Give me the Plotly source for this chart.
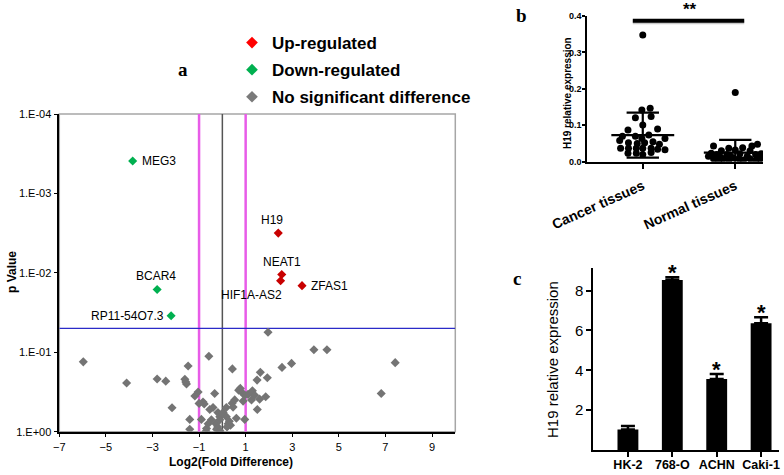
import math
import plotly.graph_objects as go

FONT = "Liberation Sans, Arial, sans-serif"
SERIF = "Liberation Serif, Times New Roman, serif"

# ---------------- panel a : volcano plot ----------------
grey_x = [-5.97, -4.11, -2.80, -2.43, -2.16, -1.47, -1.61, -1.54, -1.57, -1.18,
          -1.04, -1.40, -1.40, -0.83, -0.78, -0.58, -0.33, -0.40, -0.54, -0.47,
          -0.61, -0.68, -0.70, -0.19, -0.11, -0.11, -0.28, -0.20, -0.15, -0.25,
          -0.10, 0.03, 0.17, 0.17, 0.25, 0.35, 0.30, 0.20, 0.43, 0.42,
          0.53, 0.60, 0.77, 0.82, 0.70, 0.96, 1.10, 0.89, 0.96, 1.29,
          1.39, 1.25, 1.60, 1.86, 1.50, 1.49, 1.63, 1.93, 1.96, 2.56,
          2.97, 3.93, 4.49, 6.82, 7.42, -1.00, -0.90, 0.46]
grey_p = [0.132, 0.244, 0.217, 0.231, 0.500, 0.149, 0.219, 0.251, 0.236, 0.355,
          0.316, 0.700, 0.930, 0.422, 0.447, 0.112, 0.331, 0.495, 0.525, 0.708,
          0.794, 0.912, 0.990, 0.575, 0.646, 0.708, 0.794, 0.871, 0.955, 0.930,
          0.980, 0.575, 0.495, 0.646, 0.794, 0.830, 0.740, 0.870, 0.162, 0.437,
          0.398, 0.676, 0.285, 0.316, 0.300, 0.347, 0.339, 0.412, 0.700, 0.305,
          0.347, 0.398, 0.389, 0.363, 0.525, 0.224, 0.179, 0.209, 0.056, 0.155,
          0.138, 0.093, 0.093, 0.331, 0.135, 0.440, 0.700, 0.490]
up_names = ["H19", "NEAT1", "HIF1A-AS2", "ZFAS1"]
up_x = [2.40, 2.55, 2.50, 3.42]
up_p = [0.00316, 0.0105, 0.0126, 0.0145]
down_names = ["MEG3", "BCAR4", "RP11-54O7.3"]
down_x = [-3.85, -2.80, -2.20]
down_p = [0.00039, 0.0162, 0.0347]
fc_cutoffs = [-1, 1]
p_cutoff = 0.05
a_yticks = [1e-4, 1e-3, 1e-2, 1e-1, 1]
a_yticklabels = ["1.E-04", "1.E-03", "1.E-02", "1.E-01", "1.E+00"]
a_xticks = [-7, -5, -3, -1, 1, 3, 5, 7, 9]
legend_labels = ["Up-regulated", "Down-regulated", "No significant difference"]

# ---------------- panel b : tissue scatter ----------------
b_groups = ["Cancer tissues", "Normal tissues"]
cancer_dx = [0.00, -0.01, 0.08, 0.09, -0.08, 0.00, 0.16, -0.16, 0.065, -0.22,
             -0.08, -0.01, -0.25, 0.24, -0.155, -0.06, 0.02, 0.11, 0.18, -0.24,
             -0.155, -0.07, 0.09, 0.16, 0.24, 0.00, -0.16, -0.07, 0.00, 0.09]
cancer_val = [0.348, 0.142, 0.147, 0.124, 0.121, 0.101, 0.090, 0.087, 0.073, 0.070,
              0.070, 0.064, 0.058, 0.064, 0.052, 0.050, 0.052, 0.055, 0.048, 0.037,
              0.037, 0.037, 0.037, 0.034, 0.033, 0.037, 0.023, 0.023, 0.020, 0.025]
normal_dx = [0.00, -0.235, 0.18, 0.24, -0.07, 0.08, -0.15, 0.00, 0.16, -0.26,
             0.28, -0.20, -0.09, 0.05, 0.22, -0.29, -0.16, -0.05, 0.13, 0.25,
             0.31, -0.235, -0.13, -0.02, 0.04, 0.16, 0.27, -0.07, 0.09, -0.18, 0.22]
normal_val = [0.190, 0.043, 0.043, 0.048, 0.037, 0.038, 0.030, 0.032, 0.030, 0.023,
              0.022, 0.020, 0.020, 0.022, 0.020, 0.015, 0.013, 0.015, 0.015, 0.013,
              0.015, 0.008, 0.008, 0.010, 0.008, 0.008, 0.008, 0.005, 0.005, 0.004, 0.004]
b_mean = [0.073, 0.025]
b_sd = [0.062, 0.035]
b_sig = "**"
b_sig_level = 0.387

# ---------------- panel c : cell lines ----------------
c_lines = ["HK-2", "768-O", "ACHN", "Caki-1"]
c_vals = [1.03, 8.53, 3.56, 6.36]
c_err = [0.18, 0.14, 0.25, 0.30]
c_stars = ["", "*", "*", "*"]

fig = go.Figure()

# --- panel a cut-off lines
for c in fc_cutoffs:
    fig.add_trace(go.Scatter(x=[c, c], y=[1e-4, 1], mode="lines",
                             line=dict(color="#e85ce8", width=2.5),
                             showlegend=False, hoverinfo="skip",
                             xaxis="x", yaxis="y"))
fig.add_trace(go.Scatter(x=[0, 0], y=[1e-4, 1], mode="lines",
                         line=dict(color="#555555", width=1.5),
                         showlegend=False, hoverinfo="skip", xaxis="x", yaxis="y"))
fig.add_trace(go.Scatter(x=[-7, 10], y=[p_cutoff, p_cutoff], mode="lines",
                         line=dict(color="#2b2bc8", width=1.2),
                         showlegend=False, hoverinfo="skip", xaxis="x", yaxis="y"))

# --- panel a points
fig.add_trace(go.Scatter(x=grey_x, y=grey_p, mode="markers",
                         marker=dict(symbol="diamond", size=7, color="#747474"),
                         showlegend=False, xaxis="x", yaxis="y"))
fig.add_trace(go.Scatter(x=up_x, y=up_p, mode="markers",
                         marker=dict(symbol="diamond", size=7, color="#c80000"),
                         showlegend=False, xaxis="x", yaxis="y"))
fig.add_trace(go.Scatter(x=down_x, y=down_p, mode="markers",
                         marker=dict(symbol="diamond", size=7, color="#00b050"),
                         showlegend=False, xaxis="x", yaxis="y"))

# --- legend entries
for name, col in zip(legend_labels, ["#ff0000", "#00b050", "#7a7a7a"]):
    fig.add_trace(go.Scatter(x=[None], y=[None], mode="markers", name="<b>" + name + "</b>",
                             legendgroup=name,
                             marker=dict(symbol="diamond", size=9, color=col),
                             xaxis="x", yaxis="y"))

# --- panel b points
fig.add_trace(go.Scatter(x=[0 + d for d in cancer_dx], y=cancer_val, mode="markers",
                         marker=dict(size=7, color="black"), showlegend=False,
                         xaxis="x2", yaxis="y2"))
fig.add_trace(go.Scatter(x=[1 + d for d in normal_dx], y=normal_val, mode="markers",
                         marker=dict(size=7, color="black"), showlegend=False,
                         xaxis="x2", yaxis="y2"))
# mean and SD
lx, ly = [], []
for i, (m, s) in enumerate(zip(b_mean, b_sd)):
    lx += [i - 0.34, i + 0.34, None, i, i, None, i - 0.175, i + 0.175, None,
           i - 0.175, i + 0.175, None]
    ly += [m, m, None, m - s, m + s, None, m + s, m + s, None, m - s, m - s, None]
fig.add_trace(go.Scatter(x=lx, y=ly, mode="lines", line=dict(color="black", width=2.2),
                         showlegend=False, hoverinfo="skip", xaxis="x2", yaxis="y2"))
fig.add_trace(go.Scatter(x=[-0.108, 1.097], y=[b_sig_level - 0.004, b_sig_level - 0.004],
                         mode="lines", line=dict(color="#c8c8c8", width=4),
                         showlegend=False, hoverinfo="skip", xaxis="x2", yaxis="y2"))
fig.add_trace(go.Scatter(x=[-0.108, 1.097], y=[b_sig_level, b_sig_level],
                         mode="lines", line=dict(color="black", width=4),
                         showlegend=False, hoverinfo="skip", xaxis="x2", yaxis="y2",
                         cliponaxis=False))

# --- panel c bars
fig.add_trace(go.Bar(x=c_lines, y=c_vals, width=0.47, marker=dict(color="black", line=dict(width=0)),
                     error_y=dict(type="data", symmetric=False, array=c_err,
                                  arrayminus=[0] * len(c_err), color="black",
                                  thickness=2.5, width=7),
                     showlegend=False, xaxis="x3", yaxis="y3"))

annotations = []
# panel a gene labels
lab_font = dict(family=FONT, size=12, color="black")
label_style = {
    "H19": dict(xanchor="center", xshift=-6, yshift=13),
    "NEAT1": dict(xanchor="center", xshift=0, yshift=13),
    "HIF1A-AS2": dict(xanchor="center", xshift=-29, yshift=-14),
    "ZFAS1": dict(xanchor="left", xshift=7, yshift=0),
    "MEG3": dict(xanchor="left", xshift=7, yshift=0),
    "BCAR4": dict(xanchor="center", xshift=-1, yshift=13),
    "RP11-54O7.3": dict(xanchor="right", xshift=-5, yshift=0),
}
for names, xs, ps in [(up_names, up_x, up_p), (down_names, down_x, down_p)]:
    for n, x, p in zip(names, xs, ps):
        st = label_style[n]
        annotations.append(dict(x=x, y=math.log10(p), xref="x", yref="y", text=n,
                                showarrow=False, font=lab_font, yanchor="middle", **st))


def paper_text(text, px, py, size, family=FONT, angle=0):
    return dict(x=px / 784, y=1 - py / 475, xref="paper", yref="paper", text=text,
                showarrow=False, textangle=angle, xanchor="center", yanchor="middle",
                font=dict(family=family, size=size, color="black"))


# axis titles
annotations.append(paper_text("<b>Log2(Fold Difference)</b>", 231, 461.5, 12))
annotations.append(paper_text("<b>p Value</b>", 12, 272, 12, angle=-90))
annotations.append(paper_text("<b>H19 relative expression</b>", 567, 93, 10, angle=-90))
annotations.append(paper_text("H19 relative expression", 552, 360, 15, angle=-90))
# panel b significance
annotations.append(dict(x=0.51, y=b_sig_level, xref="x2", yref="y2", text="<b>" + b_sig + "</b>",
                        showarrow=False, xanchor="center", yanchor="bottom", yshift=0,
                        font=dict(family=FONT, size=17, color="black")))
# panel c stars
for lab, v, e, s in zip(c_lines, c_vals, c_err, c_stars):
    if s:
        annotations.append(dict(x=lab, y=v + e, xref="x3", yref="y3", text="<b>" + s + "</b>",
                                showarrow=False, xanchor="center", yanchor="middle", yshift=5,
                                font=dict(family=FONT, size=22, color="black")))
# panel letters
for t, px, py in [("a", 183, 69), ("b", 521, 16), ("c", 517, 278)]:
    annotations.append(paper_text("<b>" + t + "</b>", px, py, 19, family=SERIF))

tick_font = dict(family=FONT, size=11, color="black")
common = dict(showgrid=False, zeroline=False, automargin=False, ticks="outside",
              tickcolor="black", showline=True, linecolor="black")
fig.update_layout(
    template="none",
    width=784, height=475,
    margin=dict(l=0, r=0, t=0, b=0, autoexpand=False),
    paper_bgcolor="white", plot_bgcolor="white",
    showlegend=True,
    legend=dict(x=232 / 784, y=1 - 25 / 475, xanchor="left", yanchor="top",
                font=dict(family=FONT, size=17, color="black"),
                tracegroupgap=2, bgcolor="rgba(0,0,0,0)", itemsizing="trace"),
    xaxis=dict(domain=[59.3 / 784, 455.3 / 784], anchor="y", range=[-7, 10],
               tickvals=a_xticks, ticklen=4, tickwidth=1.2, linewidth=1.5,
               tickfont=tick_font, **common),
    yaxis=dict(domain=[1 - 431.7 / 475, 1 - 114 / 475], anchor="x", type="log",
               range=[0, -4], tickvals=a_yticks, ticktext=a_yticklabels,
               ticklen=4, tickwidth=1.2, linewidth=1.5, tickfont=tick_font, **common),
    xaxis2=dict(domain=[587.3 / 784, 763 / 784], anchor="y2", range=[-0.6, 1.3],
                tickvals=[0, 1], ticktext=["<b>" + g + "</b>" for g in b_groups],
                tickangle=-24, ticklen=5, tickwidth=1.5, linewidth=2,
                ticklabelstandoff=4,
                tickfont=dict(family=FONT, size=14, color="black"), **common),
    yaxis2=dict(domain=[1 - 161.7 / 475, 1 - 16 / 475], anchor="x2", range=[0, 0.4],
                dtick=0.1, tickformat=".1f", ticklen=3, tickwidth=1.5, linewidth=2,
                ticklabelstandoff=-1,
                tickfont=dict(family=FONT, size=9, color="black"),
                tickprefix="<b>", ticksuffix="</b>", **common),
    xaxis3=dict(domain=[593.3 / 784, 779.3 / 784], anchor="y3", type="category",
                range=[-0.78, 3.41], ticklen=5, tickwidth=1.5, linewidth=2,
                ticklabelstandoff=-3,
                tickfont=dict(family=FONT, size=12.5, color="black"),
                tickprefix="<b>", ticksuffix="</b>", **common),
    yaxis3=dict(domain=[1 - 450 / 475, 1 - 268.3 / 475], anchor="x3", range=[0, 9.12],
                tickvals=[2, 4, 6, 8], ticklen=5, tickwidth=1.5, linewidth=2,
                tickfont=dict(family=FONT, size=15, color="black"),
                tickprefix="<b>", ticksuffix="</b>", **common),
    annotations=annotations,
    shapes=[dict(type="rect", xref="x domain", yref="y domain", x0=0, x1=1, y0=0, y1=1,
                 line=dict(color="#a6a6a6", width=1.5), layer="below")],
)

fig.write_html("out.html", config={"displayModeBar": False},
               post_script="document.body.style.margin='0';")
